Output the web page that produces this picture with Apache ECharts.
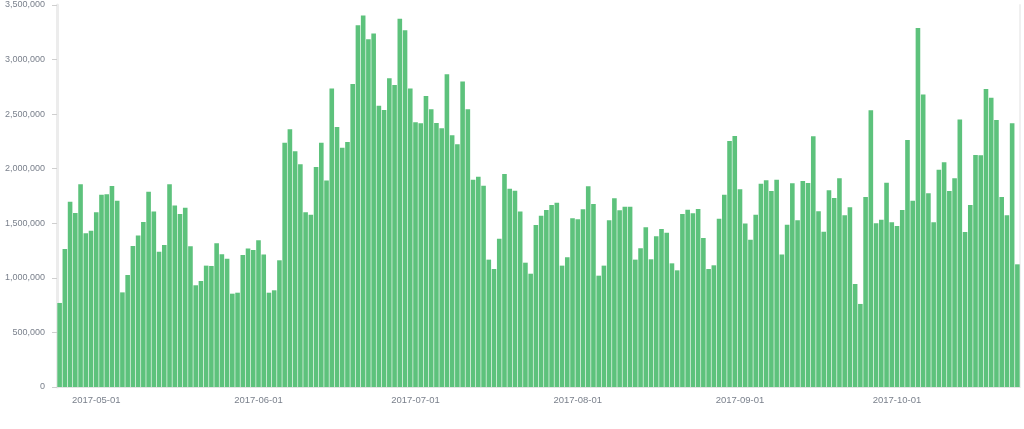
<!DOCTYPE html>
<html>
<head>
<meta charset="utf-8">
<title>Daily bars</title>
<script src="https://cdn.jsdelivr.net/npm/echarts@6/dist/echarts.min.js"></script>
<style>
  html, body { margin: 0; padding: 0; background: #fff; }
  #chart { width: 1024px; height: 429px; }
</style>
</head>
<body>
<div id="chart"></div>
<script>
// daily values, 2017-04-24 .. 2017-10-24 (184 days)
const startDate = '2017-04-24';
const values = [
  770000, 1265000, 1698000, 1594000, 1857000, 1408000, 1432000,
  1600000, 1762000, 1765000, 1842000, 1707000, 867000, 1026000,
  1292000, 1387000, 1512000, 1790000, 1607000, 1240000, 1301000,
  1857000, 1662000, 1585000, 1643000, 1289000, 932000, 971000,
  1112000, 1109000, 1316000, 1216000, 1176000, 855000, 864000,
  1210000, 1268000, 1255000, 1344000, 1213000, 864000, 886000,
  1161000, 2239000, 2361000, 2159000, 2040000, 1600000, 1579000,
  2016000, 2239000, 1891000, 2734000, 2382000, 2193000, 2245000,
  2776000, 3314000, 3403000, 3186000, 3238000, 2578000, 2538000,
  2828000, 2767000, 3375000, 3268000, 2734000, 2425000, 2416000,
  2666000, 2544000, 2419000, 2370000, 2865000, 2306000, 2224000,
  2798000, 2544000, 1900000, 1927000, 1845000, 1167000, 1081000,
  1359000, 1952000, 1817000, 1799000, 1607000, 1139000, 1038000,
  1484000, 1570000, 1622000, 1668000, 1689000, 1112000, 1188000,
  1546000, 1536000, 1628000, 1839000, 1677000, 1020000, 1112000,
  1527000, 1729000, 1619000, 1652000, 1652000, 1167000, 1271000,
  1463000, 1170000, 1381000, 1448000, 1414000, 1133000, 1069000,
  1585000, 1625000, 1591000, 1631000, 1365000, 1081000, 1115000,
  1542000, 1762000, 2254000, 2300000, 1811000, 1497000, 1350000,
  1579000, 1863000, 1894000, 1796000, 1900000, 1213000, 1487000,
  1866000, 1527000, 1888000, 1869000, 2297000, 1610000, 1423000,
  1802000, 1732000, 1912000, 1573000, 1646000, 944000, 761000,
  1741000, 2535000, 1500000, 1533000, 1872000, 1509000, 1475000,
  1622000, 2263000, 1707000, 3290000, 2679000, 1775000, 1509000,
  1991000, 2059000, 1796000, 1912000, 2450000, 1420000, 1668000,
  2126000, 2123000, 2731000, 2651000, 2447000, 1741000, 1573000,
  2416000, 1124000
];

const pad = (n) => (n < 10 ? '0' + n : '' + n);
const dates = [];
const d0 = new Date(startDate + 'T00:00:00Z');
for (let i = 0; i < values.length; i++) {
  const d = new Date(d0.getTime() + i * 86400000);
  dates.push(d.getUTCFullYear() + '-' + pad(d.getUTCMonth() + 1) + '-' + pad(d.getUTCDate()));
}

const isMonthStart = (index, value) => value.slice(8) === '01';
const labelColor = '#7a808c';
const fontFamily = '"Liberation Sans", Arial, Helvetica, sans-serif';

const chart = echarts.init(document.getElementById('chart'));

const option = {
  animation: false,
  grid: {
    left: 57,
    right: 4,
    top: 5,
    bottom: 42,
    containLabel: false
  },
  xAxis: {
    type: 'category',
    data: dates,
    boundaryGap: true,
    axisLine: { lineStyle: { color: '#e3e3e3' } },
    axisTick: {
      alignWithLabel: true,
      interval: isMonthStart,
      length: 5,
      lineStyle: { color: '#cfcfcf' }
    },
    axisLabel: {
      interval: isMonthStart,
      color: labelColor,
      fontSize: 9.5,
      fontFamily: fontFamily,
      margin: 8
    }
  },
  yAxis: [{
    type: 'value',
    min: 0,
    max: 3500000,
    interval: 500000,
    splitLine: { show: false },
    axisLine: { show: true, lineStyle: { color: '#ececec', width: 3 } },
    axisTick: { show: true, length: 5, lineStyle: { color: '#cfcfcf' } },
    axisLabel: {
      color: labelColor,
      fontSize: 9,
      fontFamily: fontFamily,
      margin: 12,
      formatter: (v) => v.toLocaleString('en-US')
    }
  }, {
    type: 'value',
    position: 'right',
    min: 0,
    max: 3500000,
    interval: 500000,
    splitLine: { show: false },
    axisLine: { show: true, lineStyle: { color: '#f0f0f0', width: 2 } },
    axisTick: { show: false },
    axisLabel: { show: false }
  }],
  series: [{
    type: 'bar',
    data: values,
    barCategoryGap: '12%',
    itemStyle: {
      color: '#5dc27c'
    }
  }]
};

chart.setOption(option);
</script>
</body>
</html>
